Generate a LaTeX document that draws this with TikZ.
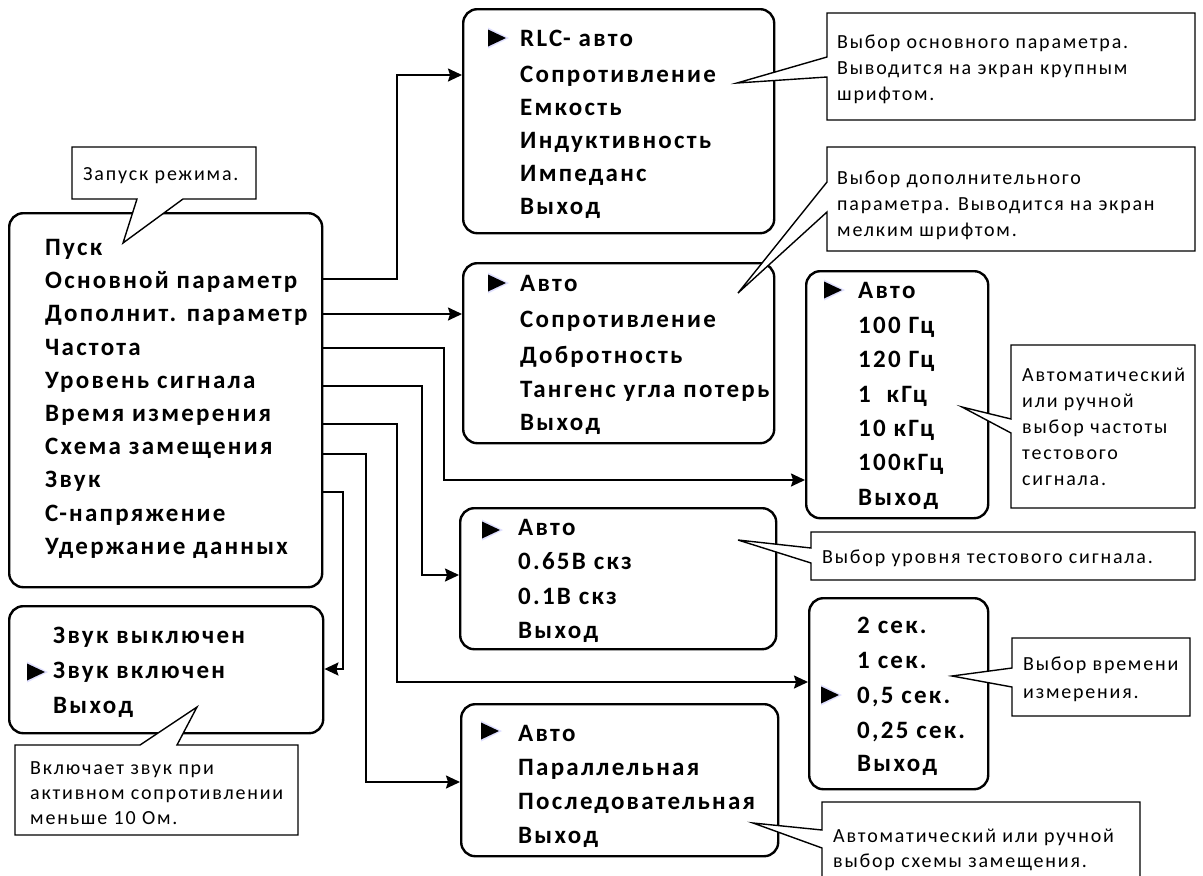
\documentclass[tikz,border=0pt]{standalone}
\usepackage{fontspec}
\setmainfont{Carlito}[LetterSpace=9]
\usetikzlibrary{arrows.meta}
\newcommand\mnfont{\fontsize{25}{28}\selectfont\bfseries}
\newcommand\ntfont{\fontsize{20}{24}\selectfont}
\begin{document}
\begin{tikzpicture}[x=1pt,y=-1pt,
  mbox/.style={draw, line width=2.4pt, rounded corners=14pt, anchor=north west, inner sep=0pt},
  itm/.style={anchor=base west, inner sep=0pt, font=\mnfont},
  ntxt/.style={anchor=base west, inner sep=0pt, font=\ntfont},
  conn/.style={line width=1.8pt},
  arr/.style={conn, -{Stealth[length=14pt,width=13pt,inset=2pt]}},
  note/.style={draw, line width=1.4pt, fill=white, line join=miter},
  tri/.pic={\fill[blue!12!white] (-9,-10.5) -- (12,0) -- (-9,10.5) -- cycle;
            \fill[black] (-9,-8.5) -- (9,0) -- (-9,8.5) -- cycle;}
]
\useasboundingbox (0,0) rectangle (1203,876);
\fill[white] (0,0) rectangle (1203,876);

% ---------- menu boxes
\node[mbox, minimum width=313pt, minimum height=374pt] (main) at (8,212) {};
\node[mbox, minimum width=311pt, minimum height=224pt] (rlc) at (462,8) {};
\node[mbox, minimum width=311pt, minimum height=180pt] (dop) at (462,262) {};
\node[mbox, minimum width=182pt, minimum height=247pt] (freq) at (805,270) {};
\node[mbox, minimum width=316pt, minimum height=141pt] (level) at (459,507) {};
\node[mbox, minimum width=179pt, minimum height=191pt] (time) at (808,597) {};
\node[mbox, minimum width=317pt, minimum height=152pt] (schema) at (460,703) {};
\node[mbox, minimum width=314pt, minimum height=127pt] (sound) at (8,605) {};

% ---------- main menu items
\node[itm] (m1) at (45,255) {Пуск};
\node[itm] (m2) at (45,288) {Основной параметр};
\node[itm] (m3) at (45,321) {Дополнит. параметр};
\node[itm] (m4) at (45,355) {Частота};
\node[itm] (m5) at (45,388) {Уровень сигнала};
\node[itm] (m6) at (45,421) {Время измерения};
\node[itm] (m7) at (45,454) {Схема замещения};
\node[itm] (m8) at (45,487) {Звук};
\node[itm] (m9) at (45,521) {С-напряжение};
\node[itm] (m10) at (45,554) {Удержание данных};

% ---------- RLC
\pic at (497,38) {tri};
\node[itm] (r1) at (520,46) {RLC- авто};
\node[itm] (r2) at (520,82) {Сопротивление};
\node[itm] (r3) at (520,115) {Емкость};
\node[itm] (r4) at (520,148) {Индуктивность};
\node[itm] (r5) at (520,181) {Импеданс};
\node[itm] (r6) at (520,214) {Выход};

% ---------- additional parameter
\pic at (497,283) {tri};
\node[itm] (d1) at (520,291) {Авто};
\node[itm] (d2) at (520,327) {Сопротивление};
\node[itm] (d3) at (520,363) {Добротность};
\node[itm] (d4) at (520,397) {Тангенс угла потерь};
\node[itm] (d5) at (520,430) {Выход};

% ---------- frequency
\pic at (833,290) {tri};
\node[itm] (f1) at (858,298) {Авто};
\node[itm] (f2) at (858,333) {100 Гц};
\node[itm] (f3) at (858,367) {120 Гц};
\node[itm] (f4) at (858,402) {1\ \ кГц};
\node[itm] (f5) at (858,436) {10 кГц};
\node[itm] (f6) at (858,470) {100кГц};
\node[itm] (f7) at (858,505) {Выход};

% ---------- level
\pic at (491,530) {tri};
\node[itm] (l1) at (518,535) {Авто};
\node[itm] (l2) at (518,569) {0.65В скз};
\node[itm] (l3) at (518,604) {0.1В скз};
\node[itm] (l4) at (518,638) {Выход};

% ---------- time
\pic at (830,695) {tri};
\node[itm] (t1) at (857,633) {2 сек.};
\node[itm] (t2) at (857,668) {1 сек.};
\node[itm] (t3) at (857,703) {0,5 сек.};
\node[itm] (t4) at (857,738) {0,25 сек.};
\node[itm] (t5) at (857,771) {Выход};

% ---------- schema
\pic at (490,731) {tri};
\node[itm] (s1) at (518,741) {Авто};
\node[itm] (s2) at (518,775) {Параллельная};
\node[itm] (s3) at (518,809) {Последовательная};
\node[itm] (s4) at (518,843) {Выход};

% ---------- sound
\pic at (36,672) {tri};
\node[itm] (z1) at (53,643) {Звук выключен};
\node[itm] (z2) at (53,678) {Звук включен};
\node[itm] (z3) at (53,713) {Выход};

% ---------- connectors
\draw[arr] (main.east |- 0,279) -- (397,279) -- (397,75) -- (rlc.west |- 0,75);
\draw[arr] (main.east |- 0,314) -- (dop.west |- 0,314);
\draw[arr] (main.east |- 0,348) -- (444,348) -- (444,480) -- (freq.west |- 0,480);
\draw[arr] (main.east |- 0,386) -- (422,386) -- (422,575) -- (level.west |- 0,575);
\draw[arr] (main.east |- 0,424) -- (397,424) -- (397,682) -- (time.west |- 0,682);
\draw[arr] (main.east |- 0,454) -- (366,454) -- (366,782) -- (schema.west |- 0,782);
\draw[arr] (main.east |- 0,492) -- (343,492) -- (343,669) -- (sound.east |- 0,669);

% ---------- callouts
\draw[note] (72,147) -- (256,147) -- (256,199) -- (183,199) -- (123,243) -- (137,199) -- (72,199) -- cycle;
\node[ntxt] (n0) at (83,180) {Запуск режима.};

\draw[note] (827,13) -- (1195,13) -- (1195,120) -- (827,120) -- (827,77) -- (737,83) -- (827,57) -- cycle;
\node[ntxt] (n1a) at (837,48) {Выбор основного параметра.};
\node[ntxt] (n1b) at (837,74) {Выводится на экран крупным};
\node[ntxt] (n1c) at (837,100) {шрифтом.};

\draw[note] (827,147) -- (1195,147) -- (1195,251) -- (827,251) -- (827,212) -- (738,293) -- (827,182) -- cycle;
\node[ntxt] (n2a) at (837,184) {Выбор дополнительного};
\node[ntxt] (n2b) at (837,210) {параметра. Выводится на экран};
\node[ntxt] (n2c) at (837,236) {мелким шрифтом.};

\draw[note] (1011,345) -- (1195,345) -- (1195,508) -- (1011,508) -- (1011,433) -- (962,407) -- (1011,419) -- cycle;
\node[ntxt] (n3a) at (1022,381) {Автоматический};
\node[ntxt] (n3b) at (1022,407) {или ручной};
\node[ntxt] (n3c) at (1022,433) {выбор частоты};
\node[ntxt] (n3d) at (1022,459) {тестового};
\node[ntxt] (n3e) at (1022,485) {сигнала.};

\draw[note] (811,532) -- (1195,532) -- (1195,580) -- (811,580) -- (811,563) -- (738,540) -- (811,548) -- cycle;
\node[ntxt] (n4) at (822,563) {Выбор уровня тестового сигнала.};

\draw[note] (1012,638) -- (1190,638) -- (1190,716) -- (1012,716) -- (1012,687) -- (952,676) -- (1012,668) -- cycle;
\node[ntxt] (n5a) at (1023,670) {Выбор времени};
\node[ntxt] (n5b) at (1023,698) {измерения.};

\draw[note] (822,802) -- (1140,802) -- (1140,880) -- (822,880) -- (822,848) -- (753,823) -- (822,830) -- cycle;
\node[ntxt] (n6a) at (833,842) {Автоматический или ручной};
\node[ntxt] (n6b) at (833,867) {выбор схемы замещения.};

\draw[note] (15,745) -- (140,745) -- (197,707) -- (177,745) -- (298,745) -- (298,835) -- (15,835) -- cycle;
\node[ntxt] (n7a) at (30,774) {Включает звук при};
\node[ntxt] (n7b) at (30,799) {активном сопротивлении};
\node[ntxt] (n7c) at (30,824) {меньше 10 Ом.};
\end{tikzpicture}
\end{document}
